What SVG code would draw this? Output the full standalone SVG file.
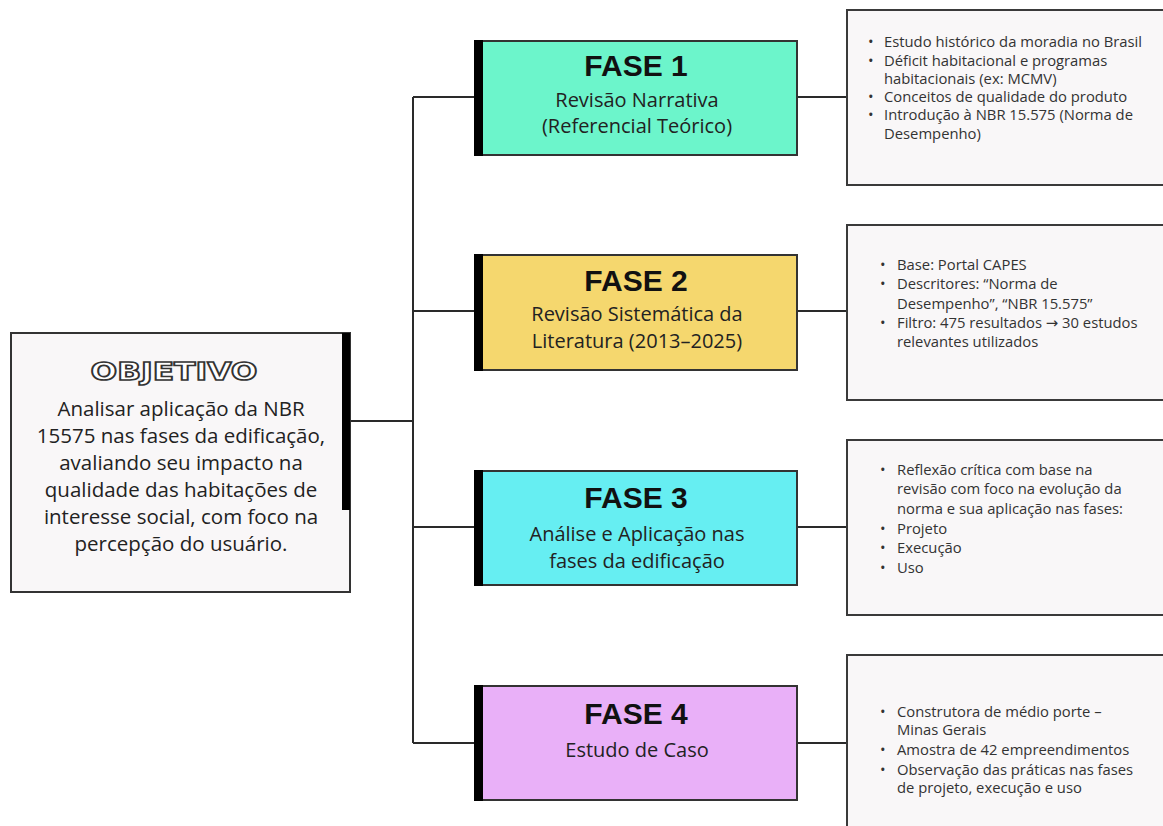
<svg xmlns="http://www.w3.org/2000/svg" width="1163" height="826" viewBox="0 0 1163 826">
<style>
.conn{stroke:#2a2a2a;stroke-width:2;fill:none}
.fase{stroke:#333;stroke-width:2}
.bar{fill:#000}
.det{fill:#f9f7f8;stroke:#3a3a3a;stroke-width:2}
.h{font-family:"Liberation Sans",Arial,sans-serif;font-weight:bold;font-size:30px;fill:#111;text-anchor:middle}
.s{font-family:"Open Sans","DejaVu Sans",sans-serif;font-size:20px;fill:#222;text-anchor:middle}
.o{font-family:"Open Sans","DejaVu Sans",sans-serif;font-size:20.5px;fill:#222;text-anchor:middle}
.d{font-family:"Open Sans","DejaVu Sans",sans-serif;font-size:14.8px;fill:#333}
</style>
<rect width="1163" height="826" fill="#ffffff"/>
<g id="connectors">
<line class="conn" x1="350" y1="421" x2="413" y2="421"/>
<line class="conn" x1="413" y1="97" x2="413" y2="743"/>
<line class="conn" x1="413" y1="97" x2="475" y2="97"/>
<line class="conn" x1="413" y1="311" x2="475" y2="311"/>
<line class="conn" x1="413" y1="527" x2="475" y2="527"/>
<line class="conn" x1="413" y1="743" x2="475" y2="743"/>
<line class="conn" x1="797" y1="97" x2="847" y2="97"/>
<line class="conn" x1="797" y1="311" x2="847" y2="311"/>
<line class="conn" x1="797" y1="527" x2="847" y2="527"/>
<line class="conn" x1="797" y1="743" x2="847" y2="743"/>
</g>
<g id="objetivo">
<rect x="11" y="333" width="339" height="259" fill="#f9f7f8" stroke="#333" stroke-width="2"/>
<rect class="bar" x="342" y="333" width="8" height="177"/>
<text x="174" y="380" font-family="'DejaVu Sans',sans-serif" font-weight="bold" font-size="25" fill="#ffffff" stroke="#333" stroke-width="1.6" text-anchor="middle" textLength="167" lengthAdjust="spacingAndGlyphs">OBJETIVO</text>
<text class="o" x="181" y="416">Analisar aplicação da NBR</text>
<text class="o" x="181" y="443">15575 nas fases da edificação,</text>
<text class="o" x="181" y="470">avaliando seu impacto na</text>
<text class="o" x="181" y="497">qualidade das habitações de</text>
<text class="o" x="181" y="524">interesse social, com foco na</text>
<text class="o" x="181" y="551">percepção do usuário.</text>
</g>
<g id="fase1">
<rect class="fase" x="475" y="41" width="322" height="114" fill="#6cf5cb"/>
<rect class="bar" x="474" y="40" width="9" height="116"/>
<text class="h" x="636" y="76">FASE 1</text>
<text class="s" x="637" y="107">Revisão Narrativa</text>
<text class="s" x="637" y="133">(Referencial Teórico)</text>
</g>
<g id="fase2">
<rect class="fase" x="475" y="255" width="322" height="115" fill="#f5d76e"/>
<rect class="bar" x="474" y="254" width="9" height="117"/>
<text class="h" x="636" y="291">FASE 2</text>
<text class="s" x="637" y="321">Revisão Sistemática da</text>
<text class="s" x="637" y="348">Literatura (2013–2025)</text>
</g>
<g id="fase3">
<rect class="fase" x="475" y="471" width="322" height="114" fill="#66eef2"/>
<rect class="bar" x="474" y="470" width="9" height="116"/>
<text class="h" x="636" y="508">FASE 3</text>
<text class="s" x="637" y="541">Análise e Aplicação nas</text>
<text class="s" x="637" y="568">fases da edificação</text>
</g>
<g id="fase4">
<rect class="fase" x="475" y="686" width="322" height="114" fill="#e9b0f8"/>
<rect class="bar" x="474" y="685" width="9" height="116"/>
<text class="h" x="636" y="724">FASE 4</text>
<text class="s" x="637" y="757">Estudo de Caso</text>
</g>
<g id="detalhe1">
<rect class="det" x="847" y="10" width="330" height="175"/>
<text class="d" x="868" y="47">•</text><text class="d" x="884" y="47">Estudo histórico da moradia no Brasil</text>
<text class="d" x="868" y="66">•</text><text class="d" x="884" y="66">Déficit habitacional e programas</text>
<text class="d" x="884" y="84">habitacionais (ex: MCMV)</text>
<text class="d" x="868" y="102">•</text><text class="d" x="884" y="102">Conceitos de qualidade do produto</text>
<text class="d" x="868" y="120">•</text><text class="d" x="884" y="120">Introdução à NBR 15.575 (Norma de</text>
<text class="d" x="884" y="139">Desempenho)</text>
</g>
<g id="detalhe2">
<rect class="det" x="847" y="225" width="330" height="175"/>
<text class="d" x="880" y="270">•</text><text class="d" x="897" y="270">Base: Portal CAPES</text>
<text class="d" x="880" y="289">•</text><text class="d" x="897" y="289">Descritores: “Norma de</text>
<text class="d" x="897" y="309">Desempenho”, “NBR 15.575”</text>
<text class="d" x="880" y="328">•</text><text class="d" x="897" y="328">Filtro: 475 resultados → 30 estudos</text>
<text class="d" x="897" y="347">relevantes utilizados</text>
</g>
<g id="detalhe3">
<rect class="det" x="847" y="440" width="330" height="175"/>
<text class="d" x="880" y="475">•</text><text class="d" x="897" y="475">Reflexão crítica com base na</text>
<text class="d" x="897" y="494">revisão com foco na evolução da</text>
<text class="d" x="897" y="514">norma e sua aplicação nas fases:</text>
<text class="d" x="880" y="534">•</text><text class="d" x="897" y="534">Projeto</text>
<text class="d" x="880" y="553">•</text><text class="d" x="897" y="553">Execução</text>
<text class="d" x="880" y="573">•</text><text class="d" x="897" y="573">Uso</text>
</g>
<g id="detalhe4">
<rect class="det" x="847" y="655" width="330" height="190"/>
<text class="d" x="880" y="717">•</text><text class="d" x="897" y="717">Construtora de médio porte –</text>
<text class="d" x="897" y="735">Minas Gerais</text>
<text class="d" x="880" y="755">•</text><text class="d" x="897" y="755">Amostra de 42 empreendimentos</text>
<text class="d" x="880" y="775">•</text><text class="d" x="897" y="775">Observação das práticas nas fases</text>
<text class="d" x="897" y="793">de projeto, execução e uso</text>
</g>
</svg>
